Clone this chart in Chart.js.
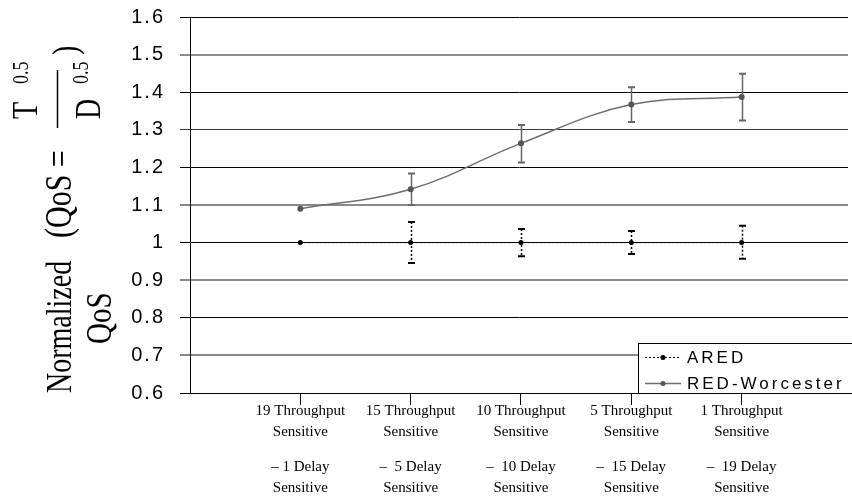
<!DOCTYPE html>
<html><head><meta charset="utf-8">
<script src="https://cdn.jsdelivr.net/npm/chart.js@4.4.1/dist/chart.umd.min.js"></script>
<style>html,body{margin:0;padding:0;background:#fff}canvas{display:block}</style>
</head><body>
<canvas id="c" width="852" height="497"></canvas>
<script>
// ---- data ----
const categories = ['19T-1D', '15T-5D', '10T-10D', '5T-15D', '1T-19D'];
const tickLinesTop = [
  ['19 Throughput', 'Sensitive'],
  ['15 Throughput', 'Sensitive'],
  ['10 Throughput', 'Sensitive'],
  ['5 Throughput', 'Sensitive'],
  ['1 Throughput', 'Sensitive']
];
const tickLinesBottom = [
  ['\u2013 1 Delay', 'Sensitive'],
  ['\u2013  5 Delay', 'Sensitive'],
  ['\u2013  10 Delay', 'Sensitive'],
  ['\u2013  15 Delay', 'Sensitive'],
  ['\u2013  19 Delay', 'Sensitive']
];
const yTickLabels = ['0.6', '0.7', '0.8', '0.9', '1', '1.1', '1.2', '1.3', '1.4', '1.5', '1.6'];
const seriesNames = ['ARED', 'RED-Worcester'];
const aredValues = [1.0, 1.0, 1.0, 1.0, 1.0];
const aredUpper = [null, 1.055, 1.036, 1.031, 1.045];
const aredLower = [null, 0.946, 0.964, 0.970, 0.957];
const worcesterValues = [1.090, 1.142, 1.264, 1.367, 1.387];
const worcesterUpper = [null, 1.184, 1.313, 1.413, 1.449];
const worcesterLower = [null, 1.100, 1.213, 1.321, 1.325];

const catPos = categories.map((c, i) => i + 1);
const errorSets = [
  {hi: aredUpper, lo: aredLower},
  {hi: worcesterUpper, lo: worcesterLower}
];

// ---- plugins ----
const spacingPlugin = {
  id: 'spacing',
  beforeDraw(chart) { chart.ctx.letterSpacing = '2px'; },
  beforeDatasetsDraw(chart) {
    const ctx = chart.ctx;
    ctx.letterSpacing = '0px';
    const x = chart.scales.x, y = chart.scales.y;
    chart.data.datasets.forEach((ds, d) => {
      const es = errorSets[d];
      es.hi.forEach((h, i) => {
        if (h == null) return;
        const px = Math.round(x.getPixelForValue(catPos[i])) + 0.5;
        const yh = y.getPixelForValue(h), yl = y.getPixelForValue(es.lo[i]);
        ctx.save();
        ctx.strokeStyle = ds.errorColor;
        ctx.lineWidth = 1.5;
        ctx.setLineDash(ds.errorDash);
        ctx.beginPath(); ctx.moveTo(px, yh); ctx.lineTo(px, yl); ctx.stroke();
        ctx.setLineDash([]);
        ctx.lineWidth = 2;
        ctx.beginPath();
        ctx.moveTo(px - 3.5, yh); ctx.lineTo(px + 3.5, yh);
        ctx.moveTo(px - 3.5, yl); ctx.lineTo(px + 3.5, yl);
        ctx.stroke();
        ctx.restore();
      });
    });
  }
};

const legendPlugin = {
  id: 'legendBox',
  afterDraw(chart) {
    const {ctx, chartArea: a} = chart;
    const w = 210, h = 50;
    const L = a.right - w, T = a.bottom - h;
    ctx.save();
    ctx.fillStyle = '#fff';
    ctx.fillRect(L, T, w + 5, h);
    ctx.strokeStyle = '#000'; ctx.lineWidth = 1;
    ctx.strokeRect(L + 0.5, T + 0.5, w + 5, h);
    chart.data.datasets.forEach((ds, i) => {
      const yy = T + 14.5 + i * 26;
      ctx.strokeStyle = ds.borderColor;
      ctx.lineWidth = ds.borderWidth;
      ctx.setLineDash(ds.borderDash || []);
      ctx.beginPath(); ctx.moveTo(L + 7, yy); ctx.lineTo(L + 43, yy); ctx.stroke();
      ctx.setLineDash([]);
      ctx.fillStyle = ds.pointBackgroundColor;
      ctx.beginPath(); ctx.arc(L + 25, yy, 2.5, 0, Math.PI * 2); ctx.fill();
      ctx.fillStyle = '#000';
      ctx.font = '17px "Liberation Sans", Arial, sans-serif';
      ctx.letterSpacing = '3px';
      ctx.textBaseline = 'middle';
      ctx.textAlign = 'left';
      ctx.fillText(ds.label, L + 49, yy + 1);
    });
    ctx.restore();
  }
};

const titlePlugin = {
  id: 'yTitle',
  afterDraw(chart) {
    const ctx = chart.ctx;
    const s = 1.27;
    function rot(text, bx, by, size) {
      ctx.save();
      ctx.translate(bx, by);
      ctx.rotate(-Math.PI / 2);
      ctx.scale(1, s);
      ctx.font = size + 'px "Liberation Serif", "Times New Roman", serif';
      ctx.fillStyle = '#000';
      ctx.textAlign = 'left';
      ctx.textBaseline = 'alphabetic';
      ctx.letterSpacing = '0px';
      ctx.fillText(text, 0, 0);
      ctx.restore();
    }
    rot('Normalized', 71, 393, 28);
    rot('(QoS =', 71, 238, 30);
    rot('T', 37, 119, 28);
    rot('0.5', 28, 84, 18);
    rot('D', 100, 119, 28);
    rot('0.5', 88, 84, 18);
    rot(')', 77, 55, 28);
    rot('QoS', 111, 344, 29);
    ctx.save();
    ctx.strokeStyle = '#000'; ctx.lineWidth = 1.5;
    ctx.beginPath(); ctx.moveTo(57.5, 128); ctx.lineTo(57.5, 70); ctx.stroke();
    ctx.restore();
  }
};

// ---- chart ----
const greyIdx = [1, 3, 5, 9];
new Chart(document.getElementById('c'), {
  type: 'line',
  data: {
    datasets: [
      {
        label: seriesNames[0],
        data: aredValues.map((v, i) => ({x: catPos[i], y: v})),
        borderColor: '#000', borderWidth: 1, borderDash: [2, 2],
        pointRadius: 2.5, pointBackgroundColor: '#000', pointBorderWidth: 0,
        tension: 0, errorColor: '#000', errorDash: [2, 2]
      },
      {
        label: seriesNames[1],
        data: worcesterValues.map((v, i) => ({x: catPos[i], y: v})),
        borderColor: '#6e6e6e', borderWidth: 1.5,
        pointRadius: 3, pointBackgroundColor: '#555', pointBorderWidth: 0,
        tension: 0.4, errorColor: '#666', errorDash: []
      }
    ]
  },
  options: {
    responsive: false, animation: false,
    devicePixelRatio: 1,
    layout: {padding: {top: 17, left: 0, right: 0, bottom: 0}},
    plugins: {legend: {display: false}, tooltip: {enabled: false}},
    scales: {
      x: {
        type: 'linear', position: 'bottom', min: 0, max: 5.964, weight: 0,
        afterBuildTicks: s => { s.ticks = catPos.map(v => ({value: v})); },
        afterFit: s => { s.height = 52; s.paddingLeft = 0; s.paddingRight = 0; },
        grid: {drawOnChartArea: false, tickLength: 12, color: '#000', lineWidth: 1},
        border: {display: true, color: '#000', width: 1},
        ticks: {
          z: 1,
          autoSkip: false, maxRotation: 0, padding: -4, color: '#000',
          font: {family: '"Liberation Serif", "Times New Roman", serif', size: 15, lineHeight: 1.4},
          callback: (v, i) => tickLinesTop[i]
        }
      },
      x2: {
        type: 'linear', position: 'bottom', min: 0, max: 5.964, weight: 1,
        afterBuildTicks: s => { s.ticks = catPos.map(v => ({value: v})); },
        afterFit: s => { s.height = 52; s.paddingLeft = 0; s.paddingRight = 0; },
        grid: {display: false, drawTicks: false},
        border: {display: false},
        ticks: {
          z: 1,
          autoSkip: false, maxRotation: 0, padding: 12, color: '#000',
          font: {family: '"Liberation Serif", "Times New Roman", serif', size: 15, lineHeight: 1.4},
          callback: (v, i) => tickLinesBottom[i]
        }
      },
      y: {
        type: 'linear', min: 0.6, max: 1.6,
        afterFit: s => { s.width = 190; s.paddingTop = 0; s.paddingBottom = 0; },
        grid: {
          color: c => greyIdx.includes(c.index) ? '#8a8a8a' : (c.index === 7 ? '#3a3a3a' : '#000'),
          lineWidth: c => greyIdx.includes(c.index) ? 2 : 1,
          tickLength: 10
        },
        border: {display: true, color: '#000', width: 1},
        ticks: {
          stepSize: 0.1, padding: 15, color: '#000',
          font: {family: '"Liberation Sans", Arial, sans-serif', size: 20},
          callback: (v, i) => yTickLabels[i]
        }
      }
    }
  },
  plugins: [spacingPlugin, legendPlugin, titlePlugin]
});
</script>
</body></html>
